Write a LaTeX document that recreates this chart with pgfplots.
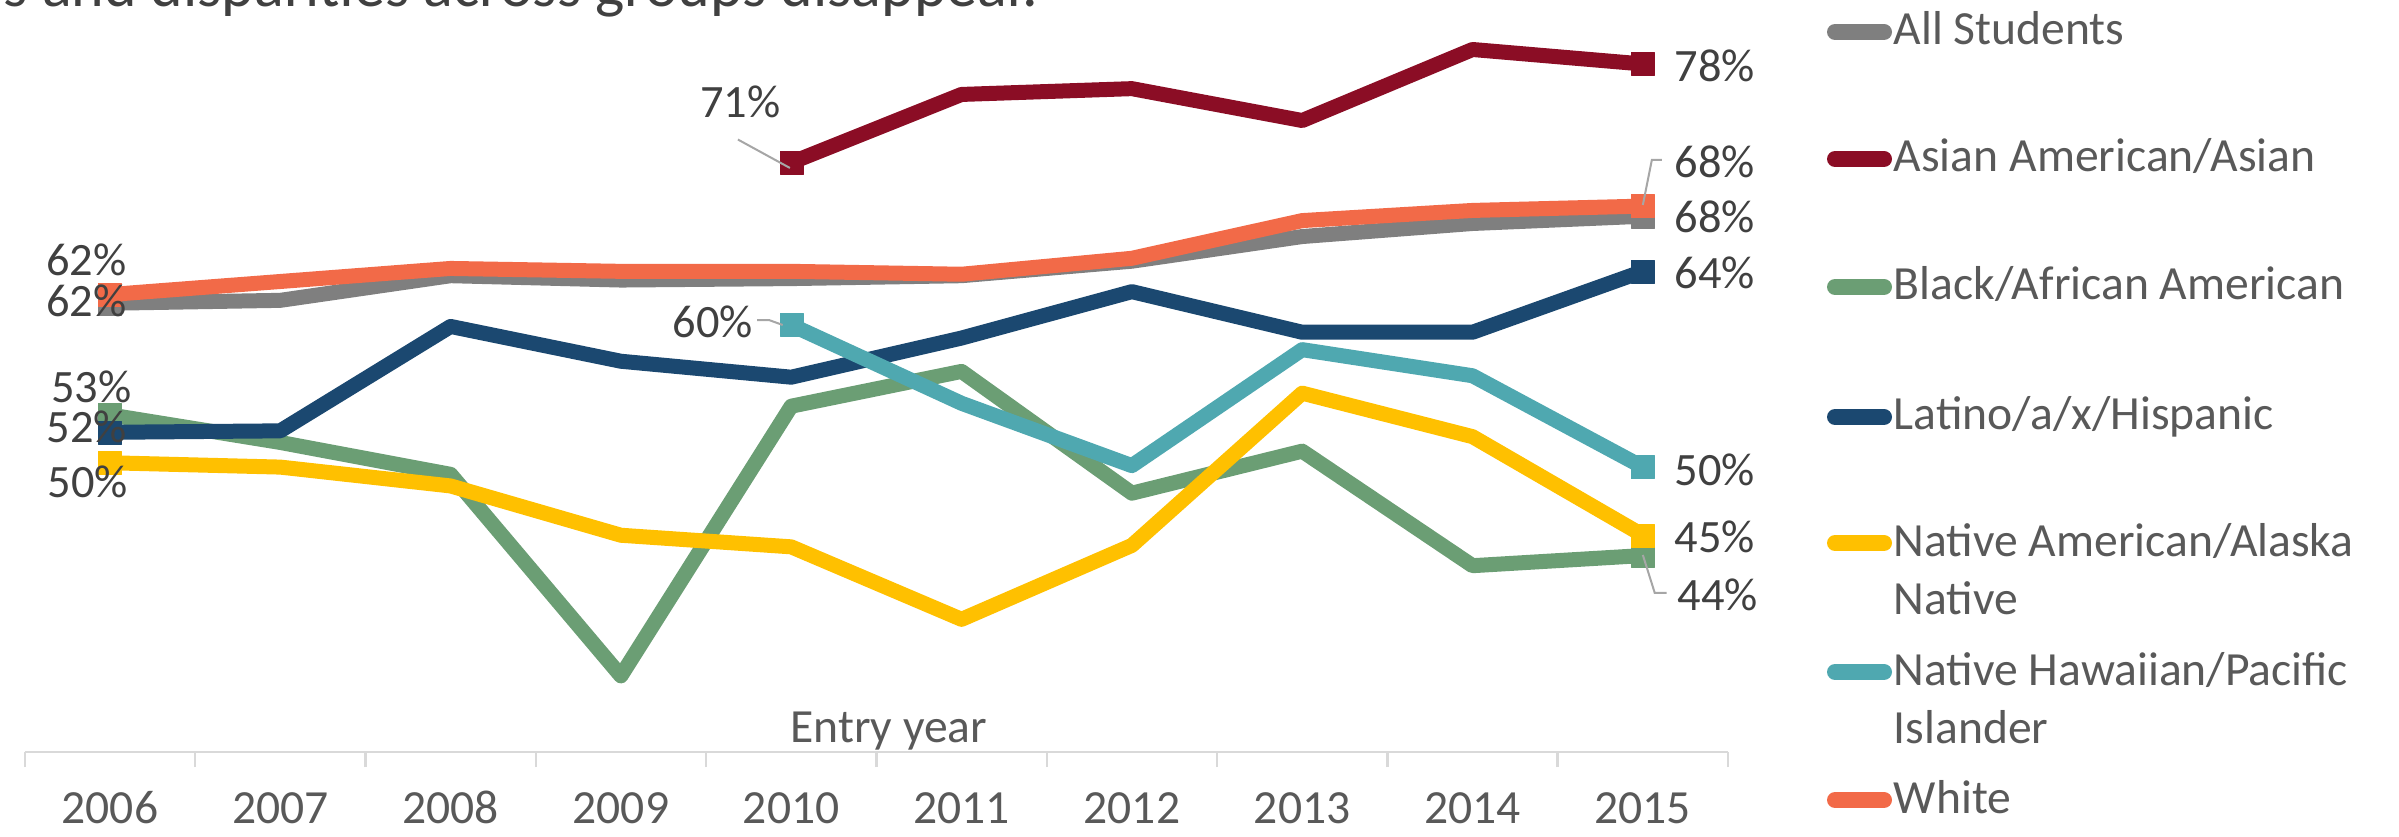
\documentclass[border=0pt]{standalone}
\usepackage{pgfplots}
\pgfplotsset{compat=1.18}
\usepackage{fontspec}
\setmainfont{Carlito}

\definecolor{cAll}{HTML}{7F7F7F}
\definecolor{cAsian}{HTML}{8B0D25}
\definecolor{cBlack}{HTML}{6B9E74}
\definecolor{cLatino}{HTML}{1B4870}
\definecolor{cNative}{HTML}{FFC000}
\definecolor{cNHPI}{HTML}{4FA8B0}
\definecolor{cWhite}{HTML}{F26A48}
\definecolor{lbl}{HTML}{404040}
\definecolor{txt}{HTML}{595959}
\definecolor{axisgray}{HTML}{D9D9D9}
\definecolor{leader}{HTML}{A6A6A6}

\newcommand\lblfont{\fontsize{11.6}{14}\selectfont}
\newcommand\legfont{\fontsize{11.9}{14.5}\selectfont}
\tikzset{dlabel/.style={font=\lblfont, text=lbl, inner sep=0pt, anchor=center}}
% legend entry: colour, y of the line sample (px), text
\newcommand\legentry[3]{%
  \draw[#1, line width=4pt, line cap=round] (1835,#2) -- (1884,#2);
  \node[anchor=base west, inner sep=0pt, text=txt, font=\legfont] at (1893,#2+13) {#3};}

\begin{document}
\begin{tikzpicture}
\useasboundingbox (0,0) rectangle (599.75pt,209pt);
\begin{axis}[
  at={(6.2pt,21pt)}, anchor=south west,
  scale only axis, width=425.8pt, height=188pt,
  xmin=-0.5, xmax=9.5, ymin=30.552, ymax=82.414,
  clip=false,
  axis x line*=bottom, axis y line=none,
  x axis line style={axisgray, line width=0.6pt, -},
  xtick={-0.5,0.5,...,9.5},
  x tick label as interval,
  xticklabels={2006,2007,2008,2009,2010,2011,2012,2013,2014,2015},
  tick align=outside, major tick length=3.75pt,
  x tick style={axisgray, line width=0.6pt},
  ytick=\empty,
  xticklabel style={font=\legfont, text=txt, anchor=center, inner sep=0pt, yshift=-10.2pt},
  every axis plot/.append style={line width=3.75pt, line join=round,
    mark=square*, mark size=2.875pt, mark options={solid, line width=0.1pt}},
]
% All Students
\addplot[cAll, mark indices={1,10}] coordinates {
  (0,61.5) (1,61.7) (2,63.4) (3,63.1) (4,63.2) (5,63.4) (6,64.4) (7,66.1) (8,67.0) (9,67.5)};
% Asian American/Asian
\addplot[cAsian, mark indices={1,6}] coordinates {
  (4,71.2) (5,75.9) (6,76.3) (7,74.1) (8,79.0) (9,78.0)};
% Black/African American
\addplot[cBlack, mark indices={1,10}] coordinates {
  (0,53.8) (1,51.9) (2,49.7) (3,35.8) (4,54.4) (5,56.8) (6,48.4) (7,51.3) (8,43.4) (9,44.1)};
% Latino/a/x/Hispanic
\addplot[cLatino, mark indices={1,10}] coordinates {
  (0,52.6) (1,52.7) (2,59.9) (3,57.5) (4,56.4) (5,59.1) (6,62.3) (7,59.5) (8,59.5) (9,63.7)};
% Native American/Alaska Native
\addplot[cNative, mark indices={1,10}] coordinates {
  (0,50.5) (1,50.2) (2,48.9) (3,45.5) (4,44.7) (5,39.7) (6,44.8) (7,55.3) (8,52.3) (9,45.5)};
% Native Hawaiian/Pacific Islander
\addplot[cNHPI, mark indices={1,6}] coordinates {
  (4,60.0) (5,54.6) (6,50.3) (7,58.3) (8,56.5) (9,50.2)};
% White
\addplot[cWhite, mark indices={1,10}] coordinates {
  (0,62.1) (1,63.0) (2,63.9) (3,63.7) (4,63.7) (5,63.5) (6,64.6) (7,67.2) (8,67.9) (9,68.2)};

% anchors for the data labels and leader lines (drawn after the axis, above the marks)
\coordinate (L71) at (axis cs:3.70,75.38);
\coordinate (L60) at (axis cs:3.54,60.21);
\coordinate (L62a) at (axis cs:-0.14,64.48);
\coordinate (L62b) at (axis cs:-0.14,61.66);
\coordinate (L53) at (axis cs:-0.11,55.72);
\coordinate (L52) at (axis cs:-0.135,52.97);
\coordinate (L50a) at (axis cs:-0.13,49.17);
\coordinate (L78) at (axis cs:9.423,77.86);
\coordinate (L68a) at (axis cs:9.423,71.24);
\coordinate (L68b) at (axis cs:9.423,67.45);
\coordinate (L64) at (axis cs:9.423,63.59);
\coordinate (L50b) at (axis cs:9.423,50.0);
\coordinate (L45) at (axis cs:9.423,45.38);
\coordinate (L44) at (axis cs:9.44,41.38);
\coordinate (A1) at (axis cs:3.687,72.79);
\coordinate (A2) at (axis cs:3.992,70.83);
\coordinate (B1) at (axis cs:3.80,60.34);
\coordinate (B2) at (axis cs:3.87,60.34);
\coordinate (B3) at (axis cs:3.95,60.0);
\coordinate (C1) at (axis cs:9.112,71.38);
\coordinate (C2) at (axis cs:9.053,71.38);
\coordinate (C3) at (axis cs:9.0,68.28);
\coordinate (D1) at (axis cs:9.0,44.14);
\coordinate (D2) at (axis cs:9.07,41.52);
\coordinate (D3) at (axis cs:9.14,41.52);

\node[anchor=base, font=\legfont, text=txt, inner sep=0pt] at (axis cs:4.573,31.24) {Entry year};
\end{axis}

\draw[leader, line width=0.5pt] (A1) -- (A2);
\draw[leader, line width=0.5pt] (B1) -- (B2) -- (B3);
\draw[leader, line width=0.5pt] (C1) -- (C2) -- (C3);
\draw[leader, line width=0.5pt] (D1) -- (D2) -- (D3);
\node[dlabel] at (L71) {71\%};
\node[dlabel] at (L60) {60\%};
\node[dlabel] at (L62a) {62\%};
\node[dlabel] at (L62b) {62\%};
\node[dlabel] at (L53) {53\%};
\node[dlabel] at (L52) {52\%};
\node[dlabel] at (L50a) {50\%};
\node[dlabel] at (L78) {78\%};
\node[dlabel] at (L68a) {68\%};
\node[dlabel] at (L68b) {68\%};
\node[dlabel] at (L64) {64\%};
\node[dlabel] at (L50b) {50\%};
\node[dlabel] at (L45) {45\%};
\node[dlabel] at (L44) {44\%};

% title (cut off at the top) and legend, in pixel units of the reference
\begin{scope}[x=0.25pt, y=-0.25pt, shift={(0pt,209pt)}]
\node[anchor=base west, inner sep=0pt, text=lbl, font=\fontsize{15.5}{18}\selectfont]
  at (3,7) {s and disparities across groups disappear.};
\legentry{cAll}{32}{All Students}
\legentry{cAsian}{159}{Asian American/Asian}
\legentry{cBlack}{287}{Black/African American}
\legentry{cLatino}{417}{Latino/a/x/Hispanic}
\legentry{cNative}{543}{Native American/Alaska}
\legentry{cNHPI}{672}{Native Hawaiian/Pacific}
\legentry{cWhite}{800}{White}
\node[anchor=base west, inner sep=0pt, text=txt, font=\legfont] at (1893,614) {Native};
\node[anchor=base west, inner sep=0pt, text=txt, font=\legfont] at (1893,743) {Islander};
\end{scope}
\end{tikzpicture}
\end{document}
